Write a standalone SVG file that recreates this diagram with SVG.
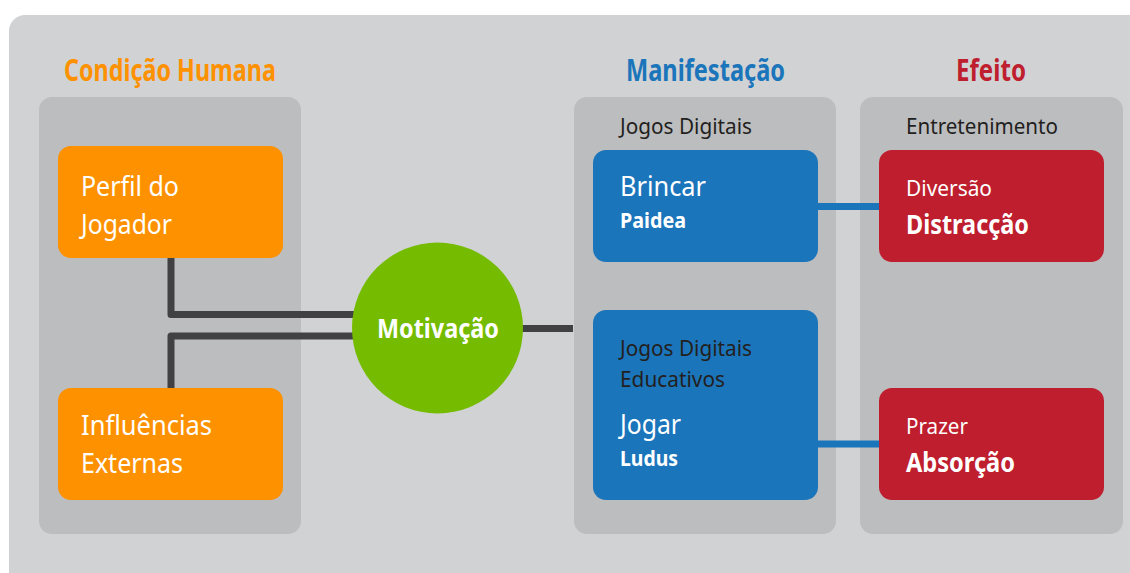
<svg xmlns="http://www.w3.org/2000/svg" width="1130" height="573" viewBox="0 0 1130 573">
  <style>
    text { font-family: "Noto Sans", "Liberation Sans", sans-serif; }
    .hdr { font-size: 30px; font-weight: bold; }
    .panel { fill: #bcbdbf; }
    .orange { fill: #fd9100; }
    .blue { fill: #1b75bb; }
    .red { fill: #be1e2d; }
    .big { font-size: 27px; fill: #ffffff; }
    .bigb { font-size: 27px; fill: #ffffff; font-weight: bold; }
    .sub { font-size: 22px; fill: #ffffff; font-weight: bold; }
    .subr { font-size: 22px; fill: #ffffff; }
    .dark { font-size: 22px; fill: #231f20; }
    .link { stroke: #414042; stroke-width: 7; fill: none; stroke-linejoin: round; }
    .blink { stroke: #1b75bb; stroke-width: 7; fill: none; }
  </style>

  <!-- backdrop -->
  <rect x="9" y="15" width="1140" height="580" rx="16" fill="#d1d2d4"/>

  <!-- column headings -->
  <text class="hdr" x="64" y="81" fill="#fd9100" textLength="212" lengthAdjust="spacingAndGlyphs">Condição Humana</text>
  <text class="hdr" x="626" y="81" fill="#1b75bb" textLength="159" lengthAdjust="spacingAndGlyphs">Manifestação</text>
  <text class="hdr" x="956" y="81" fill="#be1e2d" textLength="70" lengthAdjust="spacingAndGlyphs">Efeito</text>

  <!-- column panels -->
  <rect class="panel" x="39" y="97" width="262" height="437" rx="13"/>
  <rect class="panel" x="574" y="97" width="262" height="437" rx="13"/>
  <rect class="panel" x="860" y="97" width="263" height="437" rx="13"/>

  <text class="dark" x="620" y="134" textLength="132" lengthAdjust="spacingAndGlyphs">Jogos Digitais</text>
  <text class="dark" x="906" y="134" textLength="152" lengthAdjust="spacingAndGlyphs">Entretenimento</text>

  <!-- connectors -->
  <g id="connectors">
    <path class="link" d="M171 258 V314.5 H360"/>
    <path class="link" d="M360 336 H171 V388"/>
    <path class="link" d="M515 328.5 H573"/>
    <path class="blink" d="M818 206.5 H879"/>
    <path class="blink" d="M818 444 H879"/>
  </g>

  <g id="perfil">
    <rect class="orange" x="58" y="146" width="225" height="112" rx="13"/>
    <text class="big" x="81" y="196" textLength="98" lengthAdjust="spacingAndGlyphs">Perfil do</text>
    <text class="big" x="81" y="234" textLength="91" lengthAdjust="spacingAndGlyphs">Jogador</text>
  </g>

  <g id="influencias">
    <rect class="orange" x="58" y="388" width="225" height="112" rx="13"/>
    <text class="big" x="81" y="435" textLength="131" lengthAdjust="spacingAndGlyphs">Influências</text>
    <text class="big" x="81" y="473" textLength="102" lengthAdjust="spacingAndGlyphs">Externas</text>
  </g>

  <g id="motivacao">
    <circle cx="437.5" cy="328" r="85.5" fill="#75bc00"/>
    <text class="bigb" x="377" y="338" textLength="122" lengthAdjust="spacingAndGlyphs">Motivação</text>
  </g>

  <g id="brincar">
    <rect class="blue" x="593" y="150" width="225" height="112" rx="13"/>
    <text class="big" x="620" y="196" textLength="86" lengthAdjust="spacingAndGlyphs">Brincar</text>
    <text class="sub" x="620" y="228" textLength="66" lengthAdjust="spacingAndGlyphs">Paidea</text>
  </g>

  <g id="jogar">
    <rect class="blue" x="593" y="310" width="225" height="190" rx="13"/>
    <text class="dark" x="620" y="356" textLength="132" lengthAdjust="spacingAndGlyphs">Jogos Digitais</text>
    <text class="dark" x="620" y="387" textLength="105" lengthAdjust="spacingAndGlyphs">Educativos</text>
    <text class="big" x="620" y="434" textLength="61" lengthAdjust="spacingAndGlyphs">Jogar</text>
    <text class="sub" x="620" y="466" textLength="58" lengthAdjust="spacingAndGlyphs">Ludus</text>
  </g>

  <g id="distraccao">
    <rect class="red" x="879" y="150" width="225" height="112" rx="13"/>
    <text class="subr" x="906" y="196" textLength="86" lengthAdjust="spacingAndGlyphs">Diversão</text>
    <text class="bigb" x="906" y="234" textLength="123" lengthAdjust="spacingAndGlyphs">Distracção</text>
  </g>

  <g id="absorcao">
    <rect class="red" x="879" y="388" width="225" height="112" rx="13"/>
    <text class="subr" x="906" y="434" textLength="62" lengthAdjust="spacingAndGlyphs">Prazer</text>
    <text class="bigb" x="906" y="472" textLength="109" lengthAdjust="spacingAndGlyphs">Absorção</text>
  </g>
</svg>
